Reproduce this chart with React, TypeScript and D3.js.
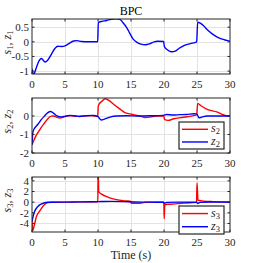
import * as d3 from 'd3';

type Pt = [number, number];

// time (s) ticks shared by all panels
const xTicks = [0, 5, 10, 15, 20, 25, 30];

// panel 1: s1 and z1 lie on top of each other, only z1 shows
const z1: Pt[] = [
  [0, -0.92], [0.12, -1.05], [0.3, -1.1], [0.6, -0.92], [1.0, -0.68], [1.4, -0.57], [1.7, -0.63],
  [2.0, -0.69], [2.4, -0.62], [3.0, -0.4], [3.5, -0.22], [3.9, -0.15], [4.5, -0.16], [5.0, -0.14],
  [5.6, -0.06], [6.3, 0.03], [6.8, 0.04], [7.5, 0.01], [8.5, 0.0], [9.95, 0.0], [10.05, 0.66],
  [10.6, 0.7], [11.3, 0.73], [12.0, 0.77], [12.7, 0.79], [13.3, 0.77], [13.8, 0.65], [14.3, 0.5],
  [14.8, 0.3], [15.3, 0.1], [15.8, 0.0], [16.5, -0.08], [17.2, -0.1], [17.8, -0.07], [18.5, 0.0],
  [19.0, 0.02], [19.95, 0.01], [20.05, -0.16], [20.5, -0.27], [21.2, -0.34], [21.7, -0.32],
  [22.3, -0.22], [23.0, -0.13], [24.0, -0.06], [24.95, 0.0], [25.1, 0.67], [25.5, 0.64],
  [26.0, 0.55], [26.6, 0.4], [27.3, 0.27], [28.0, 0.17], [28.8, 0.09], [29.5, 0.05], [30, 0.02],
];

// panel 2
const s2: Pt[] = [
  [0, -1.55], [0.3, -1.3], [0.65, -1.03], [1.0, -0.85], [1.4, -0.62], [1.9, -0.38], [2.4, -0.15],
  [2.9, -0.01], [3.3, 0.0], [3.8, -0.08], [4.3, -0.11], [4.8, -0.05], [5.3, 0.0], [6.0, 0.02],
  [7.0, -0.02], [8.0, 0.01], [9.0, 0.02], [9.95, -0.02], [10.05, 0.55], [10.6, 0.8], [11.1, 0.93],
  [11.6, 0.85], [12.4, 0.62], [13.3, 0.38], [14.0, 0.2], [14.8, 0.11], [15.5, 0.06], [16.3, 0.0],
  [17.2, -0.09], [18.0, -0.05], [18.8, 0.0], [19.95, 0.0], [20.1, -0.2], [20.6, -0.24],
  [21.5, -0.15], [22.5, -0.09], [23.5, -0.04], [24.95, 0.06], [25.1, 0.68], [25.6, 0.55],
  [26.3, 0.4], [27.0, 0.3], [28.0, 0.22], [28.8, 0.09], [29.4, 0.02], [30, 0.0],
];
const z2: Pt[] = [
  [0, -1.55], [0.15, -0.85], [0.4, -0.66], [0.9, -0.45], [1.4, -0.2], [1.9, 0.0], [2.4, 0.18],
  [2.8, 0.24], [3.2, 0.17], [3.7, 0.02], [4.5, -0.05], [5.0, -0.02], [5.7, 0.03], [6.4, 0.01],
  [7.2, -0.03], [8.2, 0.01], [9.3, 0.03], [10.0, -0.04], [10.5, -0.22], [11.0, -0.17],
  [11.8, -0.06], [12.8, 0.0], [14.3, 0.01], [16.0, 0.0], [18.0, 0.01], [19.9, 0.03], [20.4, 0.08],
  [21.4, 0.05], [22.4, 0.07], [23.4, 0.08], [24.6, 0.12], [25.0, 0.1], [25.3, -0.1], [25.8, -0.05],
  [26.5, 0.0], [28.0, 0.0], [30, 0.0],
];

// panel 3
const s3: Pt[] = [
  [0, -3.3], [0.08, -5.4], [0.3, -4.6], [0.65, -2.8], [1.2, -1.6], [1.9, -0.45], [2.4, -0.08],
  [3.0, -0.02], [5.0, 0.0], [7.0, 0.05], [8.5, 0.08], [9.97, 0.08], [10.02, 6.0], [10.12, 1.95],
  [10.6, 1.45], [11.5, 0.94], [12.3, 0.62], [13.0, 0.43], [14.0, 0.25], [14.9, 0.17], [15.05, -0.2],
  [16.0, -0.22], [16.6, -0.15], [17.2, -0.02], [18.5, 0.0], [19.97, 0.0], [20.03, -3.1],
  [20.12, -0.45], [21.0, -0.38], [22.0, -0.28], [23.0, -0.18], [24.0, -0.1], [24.93, -0.05],
  [25.0, 3.6], [25.15, 0.35], [26.0, 0.18], [27.5, 0.1], [30, 0.02],
];
const z3: Pt[] = [
  [0, -3.6], [0.2, -2.5], [0.4, -1.75], [0.9, -0.8], [1.3, -0.42], [1.7, -0.2], [2.4, -0.02],
  [4.0, 0.0], [8.0, 0.05], [10.0, 0.1], [12.0, 0.14], [14.0, 0.1], [15.5, 0.04], [18.0, 0.0],
  [19.9, -0.02], [20.05, -0.2], [20.4, -0.05], [22.0, 0.0], [24.9, -0.03], [25.1, -0.22],
  [25.5, -0.05], [27.0, 0.02], [30, 0.0],
];

const panels = [
  { top: 19, yDomain: [-1.1, 0.78], yTicks: [-1, -0.5, 0, 0.5], red: null as Pt[] | null, blue: z1, n: '1', legend: false },
  { top: 98, yDomain: [-2, 0.97], yTicks: [-2, -1, 0], red: s2, blue: z2, n: '2', legend: true },
  { top: 177, yDomain: [-5.6, 4.72], yTicks: [-4, -2, 0, 2, 4], red: s3, blue: z3, n: '3', legend: true },
];

const left = 32;
const right = 230;
const ph = 55;
const font = '"Liberation Serif", "Times New Roman", serif';
const axisColor = '#262626';
const gridColor = '#e3e3e3';
const lw0 = 1.4;

function Panel({ p, idx }: { p: typeof panels[number]; idx: number }) {
  const x = d3.scaleLinear().domain([0, 30]).range([left, right]);
  const y = d3.scaleLinear().domain(p.yDomain).range([p.top + ph, p.top]);
  const line = d3.line<Pt>().x(d => x(d[0])).y(d => y(d[1])).curve(d3.curveMonotoneX);
  const bottom = p.top + ph;
  const clipId = 'clip' + idx;
  const lx = 179, lw = 45;
  const ly = p.top + (idx === 1 ? 24 : 29), lh = idx === 1 ? 27 : 28;

  return (
    <g>
      <clipPath id={clipId}>
        <rect x={left} y={p.top} width={right - left} height={ph} />
      </clipPath>
      <rect x={left} y={p.top} width={right - left} height={ph} fill="#fff" />
      {xTicks.slice(1, -1).map(t => (
        <line key={'gx' + t} x1={Math.round(x(t)) + 0.5} x2={Math.round(x(t)) + 0.5} y1={p.top} y2={bottom} stroke={gridColor} />
      ))}
      {p.yTicks.map(t => (
        <line key={'gy' + t} x1={left} x2={right} y1={Math.round(y(t)) + 0.5} y2={Math.round(y(t)) + 0.5} stroke={gridColor} />
      ))}
      <g clipPath={`url(#${clipId})`}>
        {p.red && <path d={line(p.red) || ''} fill="none" stroke="#ff0000" strokeWidth={lw0} />}
        <path d={line(p.blue) || ''} fill="none" stroke="#0000ff" strokeWidth={lw0} />
      </g>
      {xTicks.map(t => (
        <g key={'tx' + t}>
          <line x1={x(t)} x2={x(t)} y1={bottom} y2={bottom - 2.5} stroke={axisColor} />
          <line x1={x(t)} x2={x(t)} y1={p.top} y2={p.top + 2.5} stroke={axisColor} />
          <text x={x(t)} y={bottom + 14} textAnchor="middle" fontSize={11} fill={axisColor}>{t}</text>
        </g>
      ))}
      {p.yTicks.map(t => (
        <g key={'ty' + t}>
          <line x1={left} x2={left + 2.5} y1={y(t)} y2={y(t)} stroke={axisColor} />
          <line x1={right} x2={right - 2.5} y1={y(t)} y2={y(t)} stroke={axisColor} />
          <text x={left - 3} y={y(t) + 3.8} textAnchor="end" fontSize={11} fill={axisColor}>{t}</text>
        </g>
      ))}
      <rect x={left} y={p.top} width={right - left} height={ph} fill="none" stroke={axisColor} strokeWidth={1} />
      <text transform={`translate(11,${p.top + ph / 2 - 4}) rotate(-90)`} textAnchor="middle" fontSize={12} fill={axisColor}>
        <tspan fontStyle="italic">s</tspan><tspan fontSize={8.5} dy={2}>{p.n}</tspan>
        <tspan dy={-2}>, </tspan>
        <tspan fontStyle="italic">z</tspan><tspan fontSize={8.5} dy={2}>{p.n}</tspan>
      </text>
      {p.legend && (
        <g>
          <rect x={lx} y={ly} width={lw} height={lh} fill="#fff" stroke={axisColor} strokeWidth={1.2} />
          <line x1={lx + 3} x2={lx + 29} y1={ly + lh * 0.27} y2={ly + lh * 0.27} stroke="#ff0000" strokeWidth={lw0} />
          <line x1={lx + 3} x2={lx + 29} y1={ly + lh * 0.74} y2={ly + lh * 0.74} stroke="#0000ff" strokeWidth={lw0} />
          <text x={lx + 32} y={ly + lh * 0.27 + 3} fontSize={12} fill={axisColor}>
            <tspan fontStyle="italic">s</tspan><tspan fontSize={8.5} dy={2}>{p.n}</tspan>
          </text>
          <text x={lx + 32} y={ly + lh * 0.74 + 3} fontSize={12} fill={axisColor}>
            <tspan fontStyle="italic">z</tspan><tspan fontSize={8.5} dy={2}>{p.n}</tspan>
          </text>
        </g>
      )}
    </g>
  );
}

export default function App() {
  return (
    <svg width={254} height={263} style={{ position: 'absolute', left: 0, top: 0, fontFamily: font, background: '#fff' }}>
      <text x={131} y={15} textAnchor="middle" fontSize={12} fill="#000">BPC</text>
      {panels.map((p, i) => <Panel key={i} p={p} idx={i} />)}
      <text x={131} y={259} textAnchor="middle" fontSize={12} fill={axisColor}>Time (s)</text>
    </svg>
  );
}
